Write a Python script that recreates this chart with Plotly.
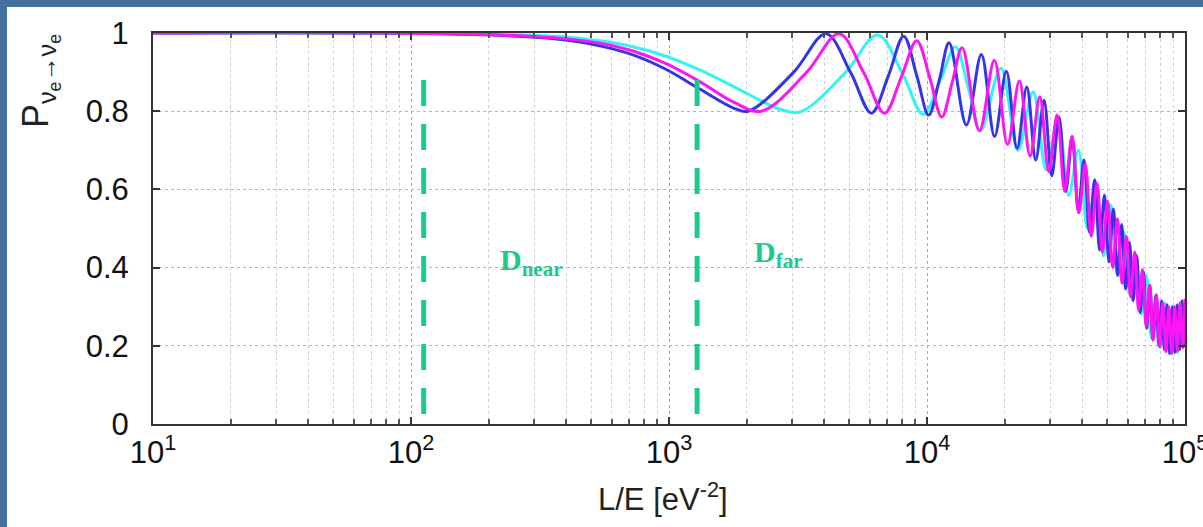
import math
import plotly.graph_objects as go

# ---- data ----
blue_x = [10, 100, 220, 400, 540, 725, 980, 1320, 1780,
          2030, 3045, 4060, 5075, 6090, 7105, 8120, 9135, 10150, 11165, 12180,
          14210, 16240, 18270, 20300, 22330, 24360, 26390, 28420, 30450, 32480,
          34510, 36540, 38570, 40600, 42630, 44660, 46690, 48720, 50750, 52780,
          54810, 56840, 58870, 60900, 62930, 64960, 66990, 69020, 71050, 73080,
          75110, 77140, 79170, 81200, 83230, 85260, 87290, 89320, 91350, 93380,
          95410, 97440, 99470, 100000]
blue_y = [1.0, 0.9995, 0.994, 0.982, 0.967, 0.944, 0.906, 0.856, 0.808,
          0.80, 0.90, 0.998, 0.897, 0.795, 0.893, 0.992, 0.89, 0.79, 0.88, 0.975,
          0.765, 0.945, 0.735, 0.902, 0.705, 0.862, 0.675, 0.828, 0.635, 0.785,
          0.595, 0.735, 0.545, 0.675, 0.49, 0.625, 0.445, 0.585, 0.415, 0.55,
          0.38, 0.51, 0.345, 0.465, 0.315, 0.43, 0.285, 0.39, 0.245, 0.355,
          0.215, 0.33, 0.20, 0.315, 0.19, 0.305, 0.18, 0.30, 0.183, 0.305,
          0.19, 0.315, 0.20, 0.21]

magenta_x = [10, 100, 220, 400, 540, 725, 980, 1320, 1780,
             2280, 3420, 4560, 5700, 6840, 7980, 9120, 10260, 11400, 12540, 13680,
             15960, 18240, 20520, 22800, 25080, 27360, 29640, 31920, 34200, 36480,
             38760, 41040, 43320, 45600, 47880, 50160, 52440, 54720, 57000, 59280,
             61560, 63840, 66120, 68400, 70680, 72960, 75240, 77520, 79800, 82080,
             84360, 86640, 88920, 91200, 93480, 95760, 98040, 100000]
magenta_y = [1.0, 0.9996, 0.995, 0.985, 0.974, 0.954, 0.921, 0.875, 0.823,
             0.80, 0.90, 0.998, 0.897, 0.795, 0.89, 0.98, 0.885, 0.785, 0.875, 0.962,
             0.75, 0.93, 0.715, 0.877, 0.685, 0.837, 0.645, 0.79, 0.595, 0.735,
             0.54, 0.665, 0.48, 0.615, 0.44, 0.57, 0.40, 0.525, 0.36, 0.48,
             0.325, 0.44, 0.29, 0.395, 0.25, 0.355, 0.215, 0.33, 0.197, 0.31,
             0.185, 0.30, 0.18, 0.30, 0.185, 0.31, 0.195, 0.32]

cyan_x = [10, 100, 220, 400, 540, 725, 980, 1320, 1780, 2300, 2700,
          3220, 4830, 6440, 8050, 9660, 11270, 12880, 14490, 16100,
          19320, 22540, 25760, 28980, 32200, 35420, 38640, 41860, 45080, 48300,
          51520, 54740, 57960, 61180, 64400, 67620, 70840, 74060, 77280, 80500,
          83720, 86940, 90160, 93380, 96600, 99820, 100000]
cyan_y = [1.0, 0.9998, 0.997, 0.99, 0.98, 0.965, 0.94, 0.905, 0.863, 0.825, 0.805,
          0.798, 0.899, 0.995, 0.895, 0.792, 0.88, 0.965, 0.857, 0.75,
          0.91, 0.70, 0.85, 0.65, 0.785, 0.585, 0.70, 0.50, 0.62, 0.43,
          0.56, 0.38, 0.49, 0.33, 0.435, 0.28, 0.38, 0.22, 0.33, 0.195,
          0.31, 0.18, 0.30, 0.183, 0.31, 0.20, 0.201]

detector_x = [112, 1285]
detector_top = 0.88
detector_labels = ["<b>D</b><sub><b>near</b></sub>", "<b>D</b><sub><b>far</b></sub>"]
detector_label_x = [218, 2100]
detector_label_y = [0.414, 0.435]

x_tick_vals = [10, 100, 1000, 10000, 100000]
x_tick_text = ["10<sup>1</sup>", "10<sup>2</sup>", "10<sup>3</sup>", "10<sup>4</sup>", "10<sup>5</sup>"]
y_tick_vals = [0, 0.2, 0.4, 0.6, 0.8, 1.0]
y_tick_text = ["0", "0.2", "0.4", "0.6", "0.8", "1"]

GREEN = "#1dc98f"
FONT = "Liberation Sans, Arial, sans-serif"

fig = go.Figure()
for xs, ys, col in [(cyan_x, cyan_y, "#33f3f3"), (blue_x, blue_y, "#3535e8"), (magenta_x, magenta_y, "#ff14f2")]:
    fig.add_trace(go.Scatter(x=xs, y=ys, mode="lines",
                             line=dict(color=col, width=3, shape="spline", smoothing=1.0),
                             showlegend=False, hoverinfo="skip"))

for dx in detector_x:
    fig.add_trace(go.Scatter(x=[dx, dx], y=[detector_top, 0.0], mode="lines",
                             line=dict(color=GREEN, width=5, dash="26px,18px"),
                             showlegend=False, hoverinfo="skip"))

for txt, lx, ly in zip(detector_labels, detector_label_x, detector_label_y):
    fig.add_annotation(x=math.log10(lx), y=ly, xref="x", yref="y", text=txt, showarrow=False,
                       xanchor="left", yanchor="middle",
                       font=dict(family="Liberation Serif, Times New Roman, serif", size=30, color=GREEN))

minor_vals = [m * 10 ** e for e in range(1, 5) for m in range(2, 10)]

fig.update_xaxes(type="log", range=[1, 5], tickmode="array", tickvals=x_tick_vals, ticktext=x_tick_text,
                 showgrid=True, gridcolor="#a8a8a8", griddash="dot", gridwidth=1,
                 ticks="inside", ticklen=7, tickwidth=2, tickcolor="#333",
                 showline=True, linecolor="#333", linewidth=2, mirror="ticks",
                 ticklabeloverflow="allow", automargin=False,
                 minor=dict(tickmode="array", tickvals=minor_vals, ticks="inside", ticklen=5,
                            tickcolor="#555", showgrid=True, gridcolor="#d0d0d0", griddash="dot", gridwidth=1),
                 tickfont=dict(size=31, family=FONT, color="#111"), zeroline=False)
fig.update_yaxes(range=[0, 1], tickmode="array", tickvals=y_tick_vals, ticktext=y_tick_text,
                 showgrid=True, gridcolor="#b5b5b5", griddash="dot", gridwidth=1,
                 ticks="inside", ticklen=7, tickwidth=2, tickcolor="#333",
                 showline=True, linecolor="#333", linewidth=2, mirror="ticks", automargin=False,
                 tickfont=dict(size=31, family=FONT, color="#111"), zeroline=False,
                 ticklabelstandoff=16)

# axis titles
fig.add_annotation(x=(663 - 153) / 1032, y=(424 - 497) / 391, xref="paper", yref="paper",
                   text="L/E [eV<sup>-2</sup>]", showarrow=False, xanchor="center", yanchor="middle",
                   font=dict(size=31, family=FONT, color="#222"))
fig.add_annotation(x=(40 - 153) / 1032, y=(424 - 81) / 391, xref="paper", yref="paper",
                   text="P<sub>ν<sub>e</sub>→ν<sub>e</sub></sub>", showarrow=False, textangle=-90,
                   xanchor="center", yanchor="middle",
                   font=dict(size=36, family=FONT, color="#222"))

# blue frame strips of the slide
FRAME = "#44709c"
fig.add_shape(type="rect", xref="paper", yref="paper", x0=-153 / 1032, x1=(7 - 153) / 1032,
              y0=(424 - 527) / 391, y1=424 / 391, fillcolor=FRAME, line_width=0, layer="below")
fig.add_shape(type="rect", xref="paper", yref="paper", x0=-153 / 1032, x1=(1203 - 153) / 1032,
              y0=(424 - 7) / 391, y1=424 / 391, fillcolor=FRAME, line_width=0, layer="below")

fig.update_layout(width=1203, height=527, margin=dict(l=153, r=18, t=33, b=103, autoexpand=False),
                  paper_bgcolor="white", plot_bgcolor="white")

fig.write_html("out.html", config={"displayModeBar": False},
               post_script="document.body.style.margin='0';document.body.style.overflow='hidden';")
